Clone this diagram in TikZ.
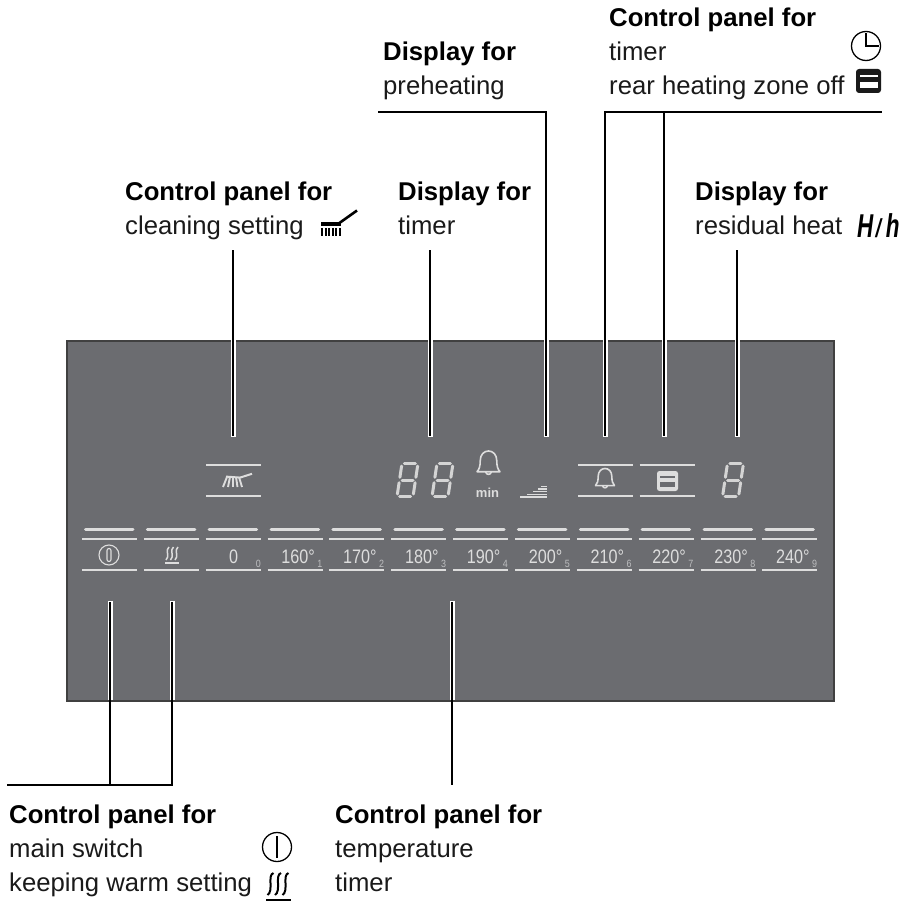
\documentclass[tikz,border=0pt]{standalone}
\usepackage{fontspec}
\setmainfont{Liberation Sans}
\definecolor{panelgray}{HTML}{6B6C70}
\definecolor{panelline}{HTML}{DDDDDD}
\definecolor{panelsoft}{HTML}{BDBEC0}
\definecolor{inkdark}{HTML}{1A1A1A}
\tikzset{
  x=1pt,y=-1pt,
  lab/.style={anchor=base west,inner sep=0pt,text=inkdark,font=\fontsize{25.7}{30}\selectfont},
  headlab/.style={anchor=base west,inner sep=0pt,text=black,font=\fontsize{25.7}{30}\selectfont\bfseries},
  leader/.style={draw=black,line width=2.8pt},
  halo/.style={draw=white,line width=5pt},
  btnthin/.style={draw=panelline,line width=2pt},
  btnthick/.style={draw=panelline,line width=3pt,line cap=round},
  templab/.style={anchor=base east,inner sep=0pt,text=panelline,font=\fontsize{19.5}{22}\selectfont},
  sublab/.style={anchor=base east,inner sep=0pt,text=panelsoft,font=\fontsize{10.5}{12}\selectfont},
  sevenseg/.pic={
    \begin{scope}[xslant=.15,draw=panelline!92!panelgray,line width=3pt,line cap=round]
      \draw (-5.5,-16.5) -- (5.5,-16.5);
      \draw (-5.5,0) -- (5.5,0);
      \draw (-5.5,16.5) -- (5.5,16.5);
      \draw (-8,-14) -- (-8,-2.7);
      \draw (8,-14) -- (8,-2.7);
      \draw (-8,2.7) -- (-8,14);
      \draw (8,2.7) -- (8,14);
    \end{scope}
  },
  bellpic/.pic={
    \draw[panelline,line width=1.6pt,line join=round]
      (-1,.8) .. controls (-.8,.6) and (-.72,.3) .. (-.72,-.15)
      .. controls (-.72,-.7) and (-.38,-1) .. (0,-1)
      .. controls (.38,-1) and (.72,-.7) .. (.72,-.15)
      .. controls (.72,.3) and (.8,.6) .. (1,.8) -- cycle;
    \draw[panelline,line width=1.6pt] (-.25,.82) .. controls (-.2,1.1) and (.2,1.1) .. (.25,.82);
  },
}
\begin{document}
\begin{tikzpicture}
\useasboundingbox (0,0) rectangle (909,901);
\fill[white] (0,0) rectangle (909,901);

% panel
\node[draw=black!75,line width=1.5pt,fill=panelgray,minimum width=767pt,minimum height=360pt,inner sep=0pt,anchor=north west] (panel) at (66,340) {};

% leader end points
\coordinate (aT) at (233,250);  \coordinate (aB) at (233,436);
\coordinate (bT) at (430,250);  \coordinate (bB) at (430,436);
\coordinate (cL) at (378,112);  \coordinate (cK) at (546,112); \coordinate (cB) at (546,436);
\coordinate (dL) at (605,112);  \coordinate (dK) at (664,112); \coordinate (dR) at (882,112);
\coordinate (dB1) at (605,436); \coordinate (dB2) at (664,436);
\coordinate (eT) at (737,250);  \coordinate (eB) at (737,436);
\coordinate (fL) at (7,785);    \coordinate (fK) at (110,785); \coordinate (fR) at (172,785);
\coordinate (fT1) at (110,602); \coordinate (fT2) at (172,602);
\coordinate (gT) at (452,602);  \coordinate (gB) at (452,785);

% white halos inside the panel
\begin{scope}
  \clip (66.8,340.8) rectangle (832.2,699.2);
  \foreach \p/\q in {aT/aB,bT/bB,cK/cB,dL/dB1,dK/dB2,eT/eB}
    \draw[halo,shorten >=-1.2pt] (\p) -- (\q);
  \foreach \p/\q in {fT1/fK,fT2/fR,gT/gB}
    \draw[halo,shorten <=-1.2pt] (\p) -- (\q);
\end{scope}
\draw[leader] (aT) -- (aB);
\draw[leader] (bT) -- (bB);
\draw[leader,line join=miter] (cL) -- (cK) -- (cB);
\draw[leader,line join=miter] (dB1) -- (dL) -- (dR);
\draw[leader] (dK) -- (dB2);
\draw[leader] (eT) -- (eB);
\draw[leader,line join=miter] (fL) -- (fR) -- (fT2);
\draw[leader] (fK) -- (fT1);
\draw[leader] (gT) -- (gB);

% labels
\node[headlab] (t1a) at (125,201) {Control panel for};
\node[lab]     (t1b) at (125,235) {cleaning setting};
\node[headlab] (t2a) at (398,201) {Display for};
\node[lab]     (t2b) at (398,235) {timer};
\node[headlab] (t3a) at (383,61) {Display for};
\node[lab]     (t3b) at (383,95) {preheating};
\node[headlab] (t4a) at (609,27) {Control panel for};
\node[lab]     (t4b) at (609,61) {timer};
\node[lab]     (t4c) at (609,95) {rear heating zone off};
\node[headlab] (t5a) at (695,201) {Display for};
\node[lab]     (t5b) at (695,235) {residual heat};
\node[anchor=base west,inner sep=0pt,text=black,font=\fontsize{33}{36}\selectfont] (t5c) at (857,237)
  {\scalebox{.68}[1]{\textbf{\itshape H}}\hspace{1pt}\scalebox{1.1}[1]{\fontsize{26}{30}\selectfont/}\hspace{3pt}\scalebox{.68}[1]{\textbf{\itshape h}}};
\node[headlab] (t6a) at (9,823) {Control panel for};
\node[lab]     (t6b) at (9,857) {main switch};
\node[lab]     (t6c) at (9,891) {keeping warm setting};
\node[headlab] (t7a) at (335,823) {Control panel for};
\node[lab]     (t7b) at (335,857) {temperature};
\node[lab]     (t7c) at (335,891) {timer};

% outer icons
\draw[black,line width=1.3pt] (866,46) circle (14.5);
\draw[black,line width=1.8pt,line join=miter] (866,33) -- (866,46) -- (879,46);
\fill[inkdark,rounded corners=3pt] (856,69) rectangle (881,93);
\fill[white] (859.5,75) rectangle (877.5,77.5);
\fill[white] (859.5,82) rectangle (877.5,88);
\draw[black,line width=1.3pt] (277,847) circle (14.5);
\draw[black,line width=1.8pt] (277,836) -- (277,858);
\foreach \x in {270.5,278,285.5}
  \draw[black,line width=2pt] (\x+3,873) .. controls (\x-3.5,875) and (\x+3.5,891) .. (\x-3,895);
\draw[black,line width=1.9pt] (266,899.6) -- (291,899.6);
% brush beside label
\fill[black] (321,222) rectangle (341,226);
\foreach \x in {322,325.6,329.2,332.8,336.4,340}
  \draw[black,line width=2pt] (\x,228) -- (\x,236);
\draw[black,line width=2.6pt] (338,224) -- (357,210.5);

% button rows
\foreach \i/\lab/\sub in {0//,1//,2/0/0,3/160°/1,4/170°/2,5/180°/3,6/190°/4,7/200°/5,8/210°/6,9/220°/7,10/230°/8,11/240°/9}{
  \pgfmathsetmacro{\xa}{82+61.85*\i}
  \pgfmathsetmacro{\xb}{\xa+55}
  \pgfmathsetmacro{\xc}{\xa+3.5}
  \pgfmathsetmacro{\xd}{\xa+51}
  \pgfmathsetmacro{\xe}{\xa+47.5}
  \draw[btnthick] (\xc,529.5) -- (\xd,529.5);
  \draw[btnthin] (\xa,539) -- (\xb,539);
  \draw[btnthin] (\xa,570) -- (\xb,570);
  \ifnum\i>2
    \node[templab] (temp\i) at (\xe,563) {\scalebox{.83}[1]{\lab}};
    \node[sublab] (sub\i) at (\xb,567) {\scalebox{.85}[1]{\sub}};
  \fi
}
\node[templab,anchor=base] (temp2) at (233.5,563) {\scalebox{.83}[1]{0}};
\node[sublab] (sub2) at (261,567) {\scalebox{.85}[1]{0}};

% power key symbol
\draw[panelline,line width=1.1pt] (109,555) circle (10);
\draw[panelline,line width=1.1pt,rounded corners=2pt] (107,548.5) rectangle (111,561.5);
% keep-warm key symbol
\foreach \x in {167.5,172,176.5}
  \draw[panelline,line width=1.5pt] (\x+1.5,547) .. controls (\x-2.5,549.5) and (\x+2.5,557) .. (\x-1.5,560);
\draw[panelline,line width=1.6pt] (165,563.2) -- (178.5,563.2);

% cleaning box
\draw[btnthin] (206,465) -- (261,465);
\draw[btnthin] (206,496) -- (261,496);
\draw[panelline,line width=2pt] (226,476.6) -- (240,477.6) -- (252,473.8);
\foreach \xt/\xb in {227/223,230/228,233/233,236/237.5,239/242}
  \draw[panelline,line width=1.9pt] (\xt,477) -- (\xb,487);

% timer display and bell
\pic at (407.5,480) {sevenseg};
\pic at (442.5,480) {sevenseg};
\pic[scale=11.5] at (488.5,462.5) {bellpic};
\node[anchor=base,inner sep=0pt,text=panelline,font=\fontsize{13}{15}\selectfont\bfseries] (minlab) at (487.5,497) {min};

% preheating steps
\foreach \xs/\ys in {520/497,527/494.2,533/491.5,538/489,541/486.5}
  \draw[panelline,line width=1.2pt] (\xs,\ys) -- (547,\ys);

% timer and rear zone boxes
\foreach \xs/\xe in {578/633,639.5/695}{
  \draw[btnthin] (\xs,465) -- (\xe,465);
  \draw[btnthin] (\xs,496) -- (\xe,496);
}
\pic[scale=9.5] at (605,478) {bellpic};
\fill[panelline,rounded corners=2.5pt] (657,471) rectangle (678,491);
\fill[panelgray] (660,475.5) rectangle (675,478);
\fill[panelgray] (660,481.5) rectangle (675,486.5);

% residual heat digit
\pic at (733,480) {sevenseg};
\end{tikzpicture}
\end{document}
